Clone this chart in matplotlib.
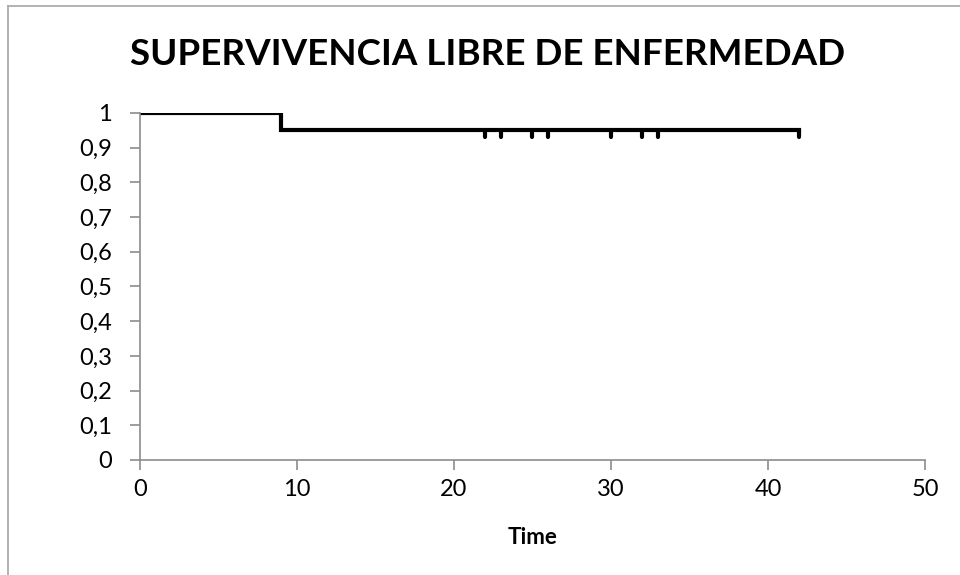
import numpy as np
import matplotlib.pyplot as plt
from matplotlib.lines import Line2D
import matplotlib.ticker as mticker

# Kaplan-Meier step data
times = [0, 9, 42]
surv = [1.0, 0.95, 0.95]
censor_t = [22, 23, 25, 26, 30, 32, 33, 42]
censor_s = [0.95] * len(censor_t)

plt.rcParams['font.family'] = ['Lato', 'DejaVu Sans']

fig = plt.figure(figsize=(9.6, 5.75), dpi=100)
ax = fig.add_axes([0.1458, 0.2, 0.8177, 0.6035])

ax.step(times, surv, where='post', color='black', lw=3, solid_joinstyle='miter')
ax.vlines(censor_t, [s - 0.02 for s in censor_s], censor_s, color='black',
          lw=3, capstyle='round')

ax.set_xlim(0, 50)
ax.set_ylim(0, 1)
ax.set_xticks(np.arange(0, 51, 10))
ax.set_yticks(np.arange(0, 1.01, 0.1))
ax.yaxis.set_major_formatter(mticker.FuncFormatter(
    lambda v, p: ('%g' % round(v, 1)).replace('.', ',')))
for s in ['top', 'right']:
    ax.spines[s].set_visible(False)
for s in ['left', 'bottom']:
    ax.spines[s].set_color('#8c8c8c')
    ax.spines[s].set_linewidth(1.2)
ax.tick_params(colors='#8c8c8c', labelcolor='black', labelsize=17,
               length=7, width=1.2, direction='out')
ax.tick_params(axis='y', pad=13)
ax.tick_params(axis='x', pad=7)
ax.set_xlabel('Time', fontsize=16, fontweight='bold', labelpad=19)

fig.text(0.508, 0.905, 'SUPERVIVENCIA LIBRE DE ENFERMEDAD', ha='center',
         va='center', fontsize=26.5, fontweight='bold')

# outer chart border (partly cropped)
bx, by = 8 / 960, 1 - 6 / 575
fig.add_artist(Line2D([bx, bx], [0, by], color='#a6a6a6', lw=1.2))
fig.add_artist(Line2D([bx, 1], [by, by], color='#a6a6a6', lw=1.2))

plt.savefig('out.png', dpi=100)
